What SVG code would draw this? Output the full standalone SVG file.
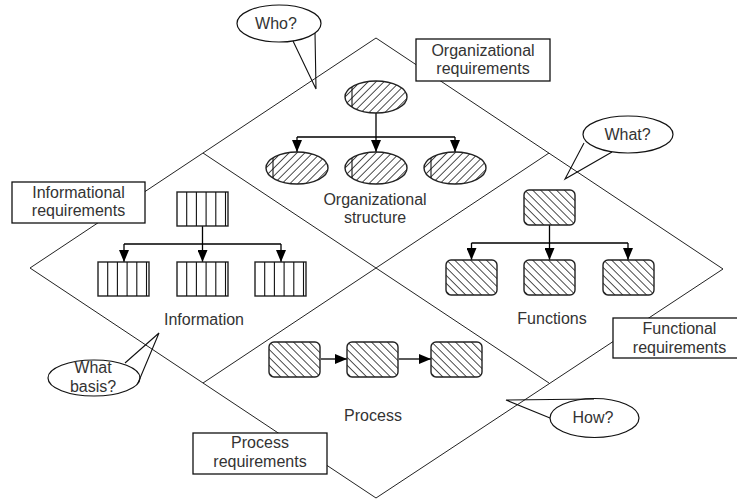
<svg xmlns="http://www.w3.org/2000/svg" width="737" height="500" viewBox="0 0 737 500">
<style>
.edge{fill:none;stroke:#222;stroke-width:1}
.box{fill:#fff;stroke:#111;stroke-width:1.3}
.call{fill:#fff;stroke:#111;stroke-width:1.2}
.tail{fill:none;stroke:#111;stroke-width:1.1}
.conn{fill:none;stroke:#000;stroke-width:1.3}
.shape{stroke:#222;stroke-width:1.4}
.t{font-family:"Liberation Sans",Arial,sans-serif;font-size:16px;fill:#333;text-anchor:middle}
</style>
<defs>
<pattern id="hFwd" patternUnits="userSpaceOnUse" width="5.6" height="10" patternTransform="rotate(45)">
<rect width="5.6" height="10" fill="#fff"/>
<line x1="0" y1="0" x2="0" y2="10" stroke="#000" stroke-width="1.4"/>
</pattern>
<pattern id="hBack" patternUnits="userSpaceOnUse" width="5.6" height="10" patternTransform="rotate(-45)">
<rect width="5.6" height="10" fill="#fff"/>
<line x1="0" y1="0" x2="0" y2="10" stroke="#000" stroke-width="1.4"/>
</pattern>
<marker id="ah" markerUnits="userSpaceOnUse" markerWidth="12" markerHeight="10" refX="12" refY="5" orient="auto">
<path d="M0,0 L12,5 L0,10 z" fill="#000"/>
</marker>
<g id="orgShape">
<ellipse cx="0" cy="0" rx="31" ry="16" fill="url(#hFwd)" class="shape"/>
<line x1="-24" y1="-10" x2="-24" y2="10" stroke="#111" stroke-width="1.1"/>
</g>
<g id="infoShape">
<rect x="0" y="0" width="51" height="34" fill="#fff" class="shape"/>
<path d="M9.7,0V34M19.4,0V34M29.1,0V34M38.8,0V34M48.5,0V34" stroke="#111" stroke-width="1.1"/>
</g>
<rect id="funcShape" x="0" y="0" width="51" height="35" rx="5" ry="5" fill="url(#hBack)" class="shape"/>
</defs>
<rect width="737" height="500" fill="#fff"/>

<g id="frame">
<polygon class="edge" points="376,38 723,269 376,498 30,268"/>
<line class="edge" x1="203" y1="153" x2="549" y2="383"/>
<line class="edge" x1="549" y1="153" x2="203" y2="383"/>
</g>

<g id="connectors">
<path class="conn" d="M376,113V137M297,137H455"/>
<line class="conn" x1="297" y1="137" x2="297" y2="152" marker-end="url(#ah)"/>
<line class="conn" x1="376" y1="137" x2="376" y2="152" marker-end="url(#ah)"/>
<line class="conn" x1="455" y1="137" x2="455" y2="152" marker-end="url(#ah)"/>
<path class="conn" d="M202.5,226V244M124,244H281"/>
<line class="conn" x1="124" y1="244" x2="124" y2="262" marker-end="url(#ah)"/>
<line class="conn" x1="202.5" y1="244" x2="202.5" y2="262" marker-end="url(#ah)"/>
<line class="conn" x1="281" y1="244" x2="281" y2="262" marker-end="url(#ah)"/>
<path class="conn" d="M549.5,225V243M471.5,243H628"/>
<line class="conn" x1="471.5" y1="243" x2="471.5" y2="260" marker-end="url(#ah)"/>
<line class="conn" x1="549.5" y1="243" x2="549.5" y2="260" marker-end="url(#ah)"/>
<line class="conn" x1="628" y1="243" x2="628" y2="260" marker-end="url(#ah)"/>
<line class="conn" x1="321" y1="359" x2="347" y2="359" marker-end="url(#ah)"/>
<line class="conn" x1="399" y1="359" x2="431" y2="359" marker-end="url(#ah)"/>
</g>

<g id="org-top"><use href="#orgShape" x="376" y="97"/></g>
<g id="org-1"><use href="#orgShape" x="297" y="168"/></g>
<g id="org-2"><use href="#orgShape" x="376" y="168"/></g>
<g id="org-3"><use href="#orgShape" x="455" y="168"/></g>
<g id="org-label"><text class="t" x="375" y="205">Organizational</text><text class="t" x="375" y="223">structure</text></g>

<g id="info-top"><use href="#infoShape" x="177" y="192"/></g>
<g id="info-1"><use href="#infoShape" x="98" y="262"/></g>
<g id="info-2"><use href="#infoShape" x="177" y="262"/></g>
<g id="info-3"><use href="#infoShape" x="255" y="262"/></g>
<g id="info-label"><text class="t" x="204" y="325">Information</text></g>

<g id="func-top"><use href="#funcShape" x="524" y="190"/></g>
<g id="func-1"><use href="#funcShape" x="446" y="260"/></g>
<g id="func-2"><use href="#funcShape" x="524" y="260"/></g>
<g id="func-3"><use href="#funcShape" x="603" y="260"/></g>
<g id="func-label"><text class="t" x="552" y="324">Functions</text></g>

<g id="proc-1"><use href="#funcShape" x="269" y="342"/></g>
<g id="proc-2"><use href="#funcShape" x="347" y="342"/></g>
<g id="proc-3"><use href="#funcShape" x="431" y="342"/></g>
<g id="proc-label"><text class="t" x="373" y="421">Process</text></g>

<g id="org-req">
<rect class="box" x="416" y="39" width="134" height="42"/>
<text class="t" x="483" y="56">Organizational</text>
<text class="t" x="483" y="74">requirements</text>
</g>
<g id="info-req">
<rect class="box" x="12" y="182" width="133" height="41"/>
<text class="t" x="78.5" y="198">Informational</text>
<text class="t" x="78.5" y="216">requirements</text>
</g>
<g id="proc-req">
<rect class="box" x="193" y="433" width="134" height="41"/>
<text class="t" x="260" y="448">Process</text>
<text class="t" x="260" y="467">requirements</text>
</g>
<g id="func-req">
<rect class="box" x="613" y="318" width="133" height="40"/>
<text class="t" x="679.5" y="334">Functional</text>
<text class="t" x="679.5" y="353">requirements</text>
</g>

<g id="who">
<ellipse class="call" cx="279" cy="23.5" rx="42" ry="18.5"/>
<polyline class="tail" points="293,41 316,89 315,33"/>
<text class="t" x="276" y="29">Who?</text>
</g>
<g id="what">
<ellipse class="call" cx="628" cy="134.5" rx="45" ry="18.5"/>
<polyline class="tail" points="584,143 565,179 612,152"/>
<text class="t" x="627.5" y="140">What?</text>
</g>
<g id="what-basis">
<ellipse class="call" cx="94" cy="378" rx="46" ry="18"/>
<polyline class="tail" points="125,363 159,333 138,383"/>
<text class="t" x="93" y="373">What</text>
<text class="t" x="93" y="392">basis?</text>
</g>
<g id="how">
<ellipse class="call" cx="594.5" cy="418" rx="44.5" ry="19.5"/>
<polyline class="tail" points="594,399 506,400 550,418"/>
<text class="t" x="593" y="423">How?</text>
</g>
</svg>
